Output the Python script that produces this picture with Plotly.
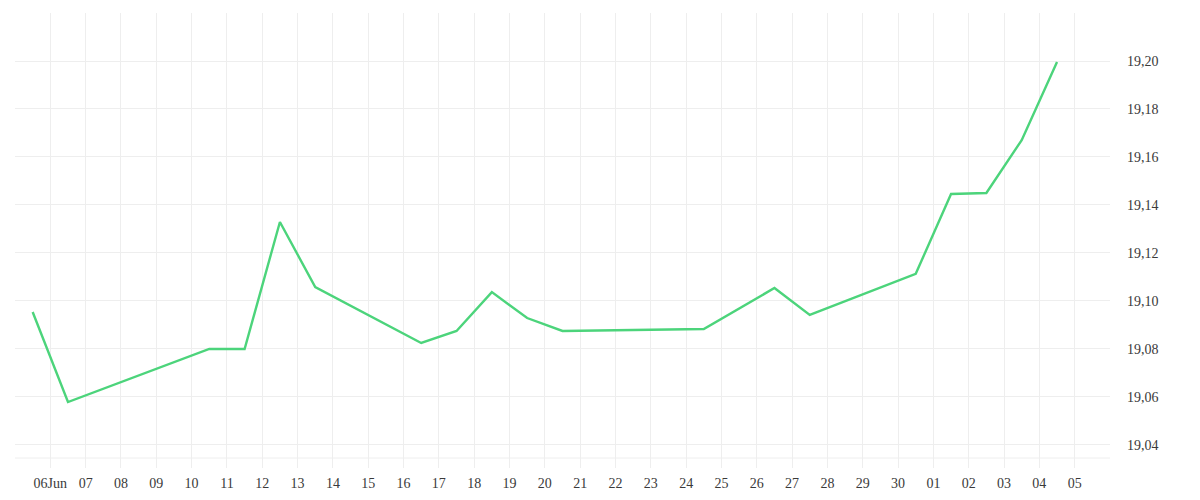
import pandas as pd
import plotly.graph_objects as go

dates = ["2023-06-05 12:00", "2023-06-06 12:00", "2023-06-10 12:00", "2023-06-11 12:00",
         "2023-06-12 12:00", "2023-06-13 12:00", "2023-06-16 12:00", "2023-06-17 12:00",
         "2023-06-18 12:00", "2023-06-19 12:00", "2023-06-20 12:00", "2023-06-24 12:00",
         "2023-06-26 12:00", "2023-06-27 12:00", "2023-06-30 12:00", "2023-07-01 12:00",
         "2023-07-02 12:00", "2023-07-03 12:00", "2023-07-04 12:00"]
values = [19.0954, 19.0579, 19.0800, 19.0800, 19.1329, 19.1058, 19.0825, 19.0875,
          19.1037, 19.0929, 19.0875, 19.0883, 19.1054, 19.0942, 19.1113, 19.1446,
          19.1450, 19.1670, 19.1996]

x_tick_dates = pd.date_range("2023-06-05", "2023-07-06", freq="D")
x_tick_labels = [""] + ["06Jun"] + [d.strftime("%d") for d in x_tick_dates[2:-1]] + [""]

y_tick_vals = [19.04, 19.06, 19.08, 19.10, 19.12, 19.14, 19.16, 19.18, 19.20, 19.22]
y_tick_labels = ["19,04", "19,06", "19,08", "19,10", "19,12", "19,14", "19,16", "19,18", "19,20", ""]

fig = go.Figure()
fig.add_trace(go.Scatter(
    x=pd.to_datetime(dates), y=values, mode="lines",
    line=dict(color="#4cd47b", width=2.4),
    hoverinfo="x+y", showlegend=False,
))

# page body has an 8px margin: plot area in the window spans x 15..1110, y 13..468
fig.update_layout(
    width=1200, height=500,
    margin=dict(l=7, r=98, t=5, b=40),
    paper_bgcolor="white", plot_bgcolor="white",
    font=dict(family="Liberation Serif", size=14, color="#3a3a3a"),
    xaxis=dict(
        range=[x_tick_dates[0], x_tick_dates[-1]],
        tickmode="array", tickvals=list(x_tick_dates), ticktext=x_tick_labels,
        showgrid=True, gridcolor="#eeeeee", gridwidth=1,
        zeroline=False, showline=False, ticks="", ticklabelstandoff=5,
    ),
    yaxis=dict(
        side="right",
        range=[19.0304, 19.22],
        tickmode="array", tickvals=y_tick_vals, ticktext=y_tick_labels,
        showgrid=True, gridcolor="#eeeeee", gridwidth=1,
        zeroline=False, showline=False, ticks="", ticklabelstandoff=16,
    ),
    shapes=[dict(type="line", xref="paper", yref="paper", x0=0, x1=1,
                 y0=(468 - 458) / 455, y1=(468 - 458) / 455,
                 line=dict(color="#eeeeee", width=1), layer="below")],
)

fig.write_html("out.html")
